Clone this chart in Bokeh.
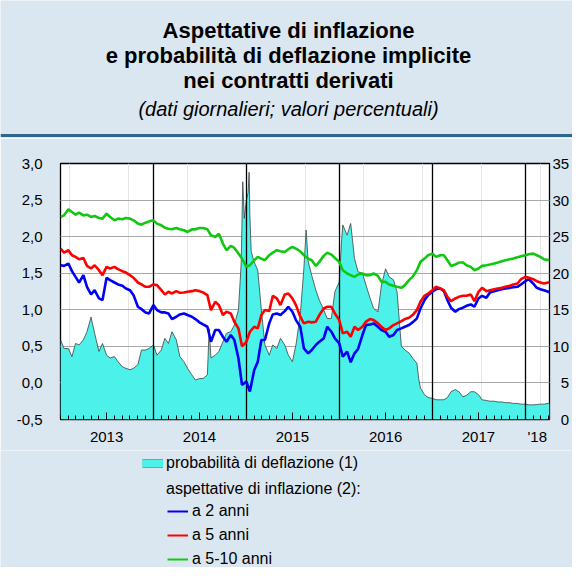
import pandas as pd
from bokeh.plotting import figure
from bokeh.models import (Range1d, LinearAxis, FixedTicker, CustomJSTickFormatter, Grid,
                          Legend, LegendItem, ColumnDataSource)
from bokeh.layouts import column
from bokeh.embed import file_html
from bokeh.resources import INLINE
from bokeh.core.properties import value

FONT = "Liberation Sans"
BG = "#dbe7f0"
SEP = "#2f6690"
CYAN = "#4cf2ea"
CYAN_EDGE = "#38bdb8"
BLUE = "#0000f5"
RED = "#ff0000"
GREEN = "#10c810"

# ---------------- data ----------------
title_lines = ["Aspettative di inflazione",
               "e probabilità di deflazione implicite",
               "nei contratti derivati"]
subtitle = "(dati giornalieri; valori percentuali)"

# semi-monthly observation dates for the expectation series
dates = []
for yy in range(2013, 2019):
    for mm in range(1, 13):
        for dd in (1, 15):
            if yy == 2018 and (mm > 4 or (mm == 4 and dd == 15)):
                continue
            dates.append(f"{yy}-{mm:02d}-{dd:02d}")
dates.append("2018-04-06")

infl_2y = [
    1.609, 1.600, 1.632, 1.528, 1.450, 1.373, 1.473, 1.314, 1.209, 1.268, 1.155, 1.132,
    1.437, 1.405, 1.373, 1.346, 1.328, 1.291, 1.268, 1.200, 1.041, 1.009, 0.964, 0.950,
    1.064, 0.996, 0.964, 0.964, 0.950, 0.873, 0.905, 0.937, 0.950, 0.928, 0.905, 0.873,
    0.828, 0.800, 0.768, 0.564, 0.723, 0.723, 0.632, 0.564, 0.655, 0.587, 0.337, -0.027,
    0.019, -0.118, 0.178, 0.291, 0.587, 0.587, 0.814, 0.937, 0.950, 0.928, 0.982, 1.041,
    0.973, 0.859, 0.768, 0.473, 0.405, 0.450, 0.518, 0.564, 0.609, 0.768, 0.700, 0.609,
    0.540, 0.359, 0.428, 0.282, 0.405, 0.464, 0.655, 0.791, 0.800, 0.814, 0.768, 0.723,
    0.700, 0.632, 0.655, 0.723, 0.746, 0.768, 0.791, 0.828, 0.882, 1.018, 1.132, 1.200,
    1.246, 1.282, 1.291, 1.255, 1.132, 1.028, 0.973, 1.009, 1.028, 1.055, 1.073, 1.041,
    1.155, 1.191, 1.164, 1.237, 1.255, 1.268, 1.282, 1.291, 1.300, 1.309, 1.314, 1.346,
    1.391, 1.418, 1.359, 1.300, 1.282, 1.268, 1.246, 1.237]

infl_5y = [
    1.837, 1.782, 1.814, 1.746, 1.723, 1.691, 1.709, 1.600, 1.564, 1.609, 1.541, 1.473,
    1.587, 1.564, 1.587, 1.555, 1.528, 1.509, 1.473, 1.437, 1.373, 1.346, 1.314, 1.314,
    1.346, 1.337, 1.268, 1.209, 1.246, 1.223, 1.255, 1.232, 1.237, 1.246, 1.255, 1.268,
    1.255, 1.237, 1.200, 0.996, 1.109, 1.064, 0.928, 0.973, 0.950, 0.837, 0.746, 0.500,
    0.560, 0.700, 0.768, 0.746, 0.928, 0.996, 0.982, 1.191, 1.155, 1.064, 1.209, 1.223,
    1.155, 1.064, 0.905, 0.814, 0.837, 0.828, 0.837, 0.928, 1.018, 1.041, 1.041, 0.950,
    0.859, 0.677, 0.700, 0.632, 0.768, 0.723, 0.768, 0.837, 0.873, 0.859, 0.814, 0.768,
    0.723, 0.746, 0.791, 0.814, 0.846, 0.873, 0.891, 0.928, 0.996, 1.109, 1.191, 1.223,
    1.268, 1.314, 1.291, 1.268, 1.177, 1.118, 1.155, 1.177, 1.191, 1.191, 1.209, 1.118,
    1.246, 1.300, 1.255, 1.268, 1.282, 1.291, 1.300, 1.314, 1.328, 1.346, 1.359, 1.418,
    1.450, 1.437, 1.418, 1.391, 1.373, 1.359, 1.373, 1.373]

infl_5_10y = [
    2.269, 2.291, 2.373, 2.337, 2.300, 2.328, 2.291, 2.300, 2.269, 2.282, 2.255, 2.246,
    2.314, 2.269, 2.223, 2.246, 2.237, 2.255, 2.246, 2.223, 2.178, 2.164, 2.191, 2.209,
    2.223, 2.178, 2.155, 2.123, 2.109, 2.100, 2.119, 2.100, 2.087, 2.064, 2.100, 2.100,
    2.119, 2.119, 2.100, 2.019, 1.996, 2.041, 1.905, 1.814, 1.873, 1.846, 1.768, 1.700,
    1.587, 1.609, 1.678, 1.723, 1.700, 1.678, 1.746, 1.782, 1.814, 1.800, 1.791, 1.828,
    1.859, 1.837, 1.800, 1.746, 1.700, 1.678, 1.600, 1.655, 1.737, 1.782, 1.755, 1.709,
    1.655, 1.541, 1.496, 1.473, 1.450, 1.482, 1.496, 1.473, 1.473, 1.496, 1.464, 1.382,
    1.382, 1.346, 1.328, 1.314, 1.300, 1.337, 1.405, 1.450, 1.541, 1.655, 1.700, 1.746,
    1.768, 1.723, 1.746, 1.746, 1.678, 1.600, 1.619, 1.646, 1.646, 1.609, 1.587, 1.541,
    1.564, 1.600, 1.609, 1.619, 1.632, 1.646, 1.664, 1.678, 1.691, 1.700, 1.719, 1.732,
    1.746, 1.759, 1.768, 1.746, 1.723, 1.691, 1.678, 1.687]

defl_dates = [
    "2013-01-01", "2013-01-15", "2013-02-01", "2013-02-15", "2013-03-01", "2013-03-15",
    "2013-04-01", "2013-04-15", "2013-05-01", "2013-05-15", "2013-06-01", "2013-06-15",
    "2013-07-01", "2013-07-15", "2013-08-01", "2013-08-15", "2013-09-01", "2013-09-15",
    "2013-10-01", "2013-10-15", "2013-11-01", "2013-11-15", "2013-12-01", "2013-12-15",
    "2014-01-01", "2014-01-15", "2014-02-01", "2014-02-15", "2014-03-01", "2014-03-15",
    "2014-04-01", "2014-04-15", "2014-05-01", "2014-05-15", "2014-06-01", "2014-06-15",
    "2014-07-01", "2014-07-15", "2014-08-01", "2014-08-08", "2014-08-15", "2014-09-01",
    "2014-09-15", "2014-10-01", "2014-10-15", "2014-11-01", "2014-11-15", "2014-12-01",
    "2014-12-08", "2014-12-12", "2014-12-15", "2014-12-18", "2014-12-24",
    "2015-01-01", "2015-01-08", "2015-01-12", "2015-01-15", "2015-01-20", "2015-02-01",
    "2015-02-15", "2015-03-01", "2015-03-15", "2015-04-01", "2015-04-15", "2015-05-01",
    "2015-05-15", "2015-06-01", "2015-06-15", "2015-07-01", "2015-07-15", "2015-08-01",
    "2015-08-15", "2015-08-24", "2015-09-01", "2015-09-15", "2015-10-01", "2015-10-15",
    "2015-11-01", "2015-11-15", "2015-12-01", "2015-12-15",
    "2016-01-01", "2016-01-10", "2016-01-15", "2016-02-01", "2016-02-15", "2016-03-01",
    "2016-03-15", "2016-04-01", "2016-04-15", "2016-05-01", "2016-05-15", "2016-06-01",
    "2016-06-15", "2016-07-01", "2016-07-15", "2016-08-01", "2016-08-15", "2016-09-01",
    "2016-09-15", "2016-10-01", "2016-10-15", "2016-11-01", "2016-11-08", "2016-11-15",
    "2016-12-01", "2016-12-15",
    "2017-01-01", "2017-01-15", "2017-02-01", "2017-02-15", "2017-03-01", "2017-03-15",
    "2017-04-01", "2017-04-15", "2017-05-01", "2017-05-15", "2017-06-01", "2017-06-15",
    "2017-07-01", "2017-07-15", "2017-08-01", "2017-08-15", "2017-09-01", "2017-09-15",
    "2017-10-01", "2017-10-15", "2017-11-01", "2017-11-15", "2017-12-01", "2017-12-15",
    "2018-01-01", "2018-01-15", "2018-02-01", "2018-02-15", "2018-03-01", "2018-03-15",
    "2018-04-01", "2018-04-06"]

defl_prob = [
    10.9, 9.7, 9.7, 8.6, 10.4, 10.2, 10.9, 12.0, 14.0, 11.8, 9.3, 10.4,
    8.8, 8.4, 8.6, 7.9, 7.2, 7.0, 6.8, 7.0, 7.5, 9.5, 9.5, 9.7,
    10.2, 8.8, 9.5, 11.1, 10.4, 12.0, 10.9, 8.6, 7.9, 7.0, 6.1, 5.4,
    5.6, 5.6, 6.1, 12.4, 8.4, 8.8, 9.3, 10.6, 11.8, 12.0, 12.9, 15.0,
    19.0, 21.5, 27.0, 32.5, 27.5,
    30.0, 31.0, 33.8, 28.0, 23.0, 21.5, 20.4, 15.0, 10.2, 8.8, 10.2, 9.7,
    11.1, 10.2, 8.8, 7.9, 10.2, 14.3, 20.6, 25.9, 21.6, 19.7, 17.7, 16.3,
    15.0, 13.8, 13.8, 17.5,
    18.8, 24.3, 26.6, 25.2, 26.8, 22.0, 20.2, 20.0, 18.4, 16.6, 15.2, 14.7,
    18.4, 20.6, 19.5, 19.1, 17.5, 10.0, 9.5, 9.1, 8.4, 7.7, 5.6, 4.3,
    3.4, 3.0,
    2.9, 2.7, 2.7, 2.7, 3.0, 3.8, 4.1, 3.8, 3.1, 3.3, 3.8, 3.8,
    3.4, 2.7, 2.6, 2.5, 2.5, 2.4, 2.4, 2.3, 2.3, 2.2, 2.2, 2.1,
    2.1, 2.0, 2.0, 2.05, 2.1, 2.1, 2.2, 2.2]

legend_labels = ["probabilità di deflazione (1)", "aspettative di inflazione (2):",
                 "a 2 anni", "a 5 anni", "a 5-10 anni"]
left_ticks = [-0.5, 0.0, 0.5, 1.0, 1.5, 2.0, 2.5, 3.0]
right_ticks = [0, 5, 10, 15, 20, 25, 30, 35]
year_starts = ["2014-01-01", "2015-01-01", "2016-01-01", "2017-01-01", "2018-01-01"]
year_label_dates = ["2013-07-01", "2014-07-01", "2015-07-01", "2016-07-01", "2017-07-01", "2018-02-17"]
mid_year_dates = ["2013-07-01", "2014-07-01", "2015-07-01", "2016-07-01", "2017-07-01"]
x_start, x_end = "2013-01-01", "2018-04-06"


def ms(d):
    return pd.Timestamp(d).value / 1e6


month_starts = [ms(f"{yy}-{mm:02d}-01") for yy in range(2013, 2019) for mm in range(1, 13)
                if not (yy == 2018 and mm > 4)]

W = 572

# ---------------- title band ----------------
t = figure(width=W, height=138, x_range=Range1d(0, W), y_range=Range1d(0, 138),
           toolbar_location=None, output_backend="svg", min_border=0, frame_align=False,
           x_axis_location=None, y_axis_location=None, outline_line_color=None,
           background_fill_color=BG, border_fill_color=BG)
t.xgrid.visible = False
t.ygrid.visible = False
t.text(x=[288, 288, 288], y=[108, 83, 58], text=title_lines, text_font=value(FONT),
       text_font_style="bold", text_font_size="22px", text_align="center",
       text_baseline="middle", text_color="black")
t.text(x=[288], y=[30], text=[subtitle], text_font=value(FONT), text_font_style="italic",
       text_font_size="20px", text_align="center", text_baseline="middle", text_color="black")
t.hspan(y=[3], line_color=SEP, line_width=3)

# ---------------- main chart ----------------
p = figure(width=W, height=312,
           x_range=Range1d(ms(x_start), ms(x_end)), y_range=Range1d(-0.5, 3.0),
           x_axis_location=None, y_axis_location=None, frame_align=False,
           toolbar_location=None, output_backend="svg",
           min_border_left=60, min_border_right=20, min_border_top=25, min_border_bottom=31,
           background_fill_color="white", border_fill_color=BG,
           outline_line_color="black", outline_line_width=1.3)
p.extra_y_ranges = {"prob": Range1d(0, 35)}

src = ColumnDataSource(dict(date=[ms(d) for d in dates], b2=infl_2y, r5=infl_5y, g510=infl_5_10y))
dsrc = ColumnDataSource(dict(date=[ms(d) for d in defl_dates], prob=defl_prob))

yaxis = LinearAxis(ticker=FixedTicker(ticks=left_ticks),
                   formatter=CustomJSTickFormatter(code="return tick.toFixed(1).replace('.', ',');"),
                   axis_line_color=None, major_tick_line_color=None, minor_tick_line_color=None,
                   major_tick_out=0, major_tick_in=0, minor_tick_out=0, minor_tick_in=0,
                   major_label_standoff=18, major_label_text_font=FONT,
                   major_label_text_font_size="15px", major_label_text_color="black")
p.add_layout(yaxis, "left")

raxis = LinearAxis(y_range_name="prob", ticker=FixedTicker(ticks=right_ticks),
                   formatter=CustomJSTickFormatter(code="return (tick < 10 ? '\u2007' : '') + tick.toFixed(0);"),
                   axis_line_color=None, major_tick_line_color=None, minor_tick_line_color=None,
                   major_tick_out=0, major_tick_in=0, minor_tick_out=0, minor_tick_in=0,
                   major_label_standoff=3, major_label_text_font=FONT,
                   major_label_text_font_size="15px", major_label_text_color="black")
p.add_layout(raxis, "right")

tick_axis = LinearAxis(ticker=FixedTicker(ticks=[ms(d) for d in mid_year_dates], minor_ticks=month_starts),
                       formatter=CustomJSTickFormatter(code="return '';"),
                       axis_line_color=None, major_tick_in=7, major_tick_out=0,
                       minor_tick_in=4, minor_tick_out=0, major_tick_line_color="black",
                       minor_tick_line_color="black", major_label_standoff=0,
                       major_label_text_font_size="1px")
p.add_layout(tick_axis, "below")

label_axis = LinearAxis(ticker=FixedTicker(ticks=[ms(d) for d in year_label_dates]),
                        formatter=CustomJSTickFormatter(code="const y = new Date(tick).getUTCFullYear(); return y >= 2018 ? \"'18\" : String(y);"),
                        axis_line_color=None, major_tick_line_color=None, minor_tick_line_color=None,
                        major_label_standoff=2, major_label_text_font=FONT,
                        major_label_text_font_size="15px", major_label_text_color="black")
p.add_layout(label_axis, "below")

p.add_layout(Grid(dimension=1, ticker=yaxis.ticker, grid_line_color="#a8a8a8", grid_line_width=1))

p.varea(x="date", y1=0, y2="prob", source=dsrc, y_range_name="prob", fill_color=CYAN)
p.line(x="date", y="prob", source=dsrc, y_range_name="prob", line_color="#404040", line_width=0.8)
p.vspan(x=[ms(d) for d in year_starts], line_color="black", line_width=1.3)

p.line(x="date", y="b2", source=src, line_color=BLUE, line_width=2.6)
p.line(x="date", y="r5", source=src, line_color=RED, line_width=2.6)
p.line(x="date", y="g510", source=src, line_color=GREEN, line_width=2.6)

# ---------------- legend band ----------------
lg = figure(width=W, height=117, x_range=Range1d(0, 1), y_range=Range1d(0, 1),
            toolbar_location=None, output_backend="svg", min_border=0, frame_align=False,
            x_axis_location=None, y_axis_location=None, outline_line_color=None,
            background_fill_color=BG, border_fill_color=BG)
lg.xgrid.visible = False
lg.ygrid.visible = False
# legend key stand-ins (single off-range point, so nothing is drawn in the band itself)
k_edge = lg.line(x=[-5], y=[-5], line_color=CYAN_EDGE, line_width=9)
k_fill = lg.line(x=[-5], y=[-5], line_color=CYAN, line_width=7)
k_blank = lg.line(x=[-5], y=[-5], line_alpha=0)
k_blue = lg.line(x=[-5], y=[-5], line_color=BLUE, line_width=2)
k_red = lg.line(x=[-5], y=[-5], line_color=RED, line_width=2)
k_green = lg.line(x=[-5], y=[-5], line_color=GREEN, line_width=2)

common = dict(glyph_width=21, glyph_height=20, label_height=20, padding=0, margin=0,
              border_line_color=None, background_fill_alpha=0,
              label_text_font=FONT, label_text_font_size="16px", label_text_color="black")
legA = Legend(items=[LegendItem(label=legend_labels[0], renderers=[k_edge, k_fill]),
                     LegendItem(label=legend_labels[1], renderers=[k_blank])],
              location=(142, 68), label_standoff=3, spacing=6, **common)
legB = Legend(items=[LegendItem(label=legend_labels[2], renderers=[k_blue]),
                     LegendItem(label=legend_labels[3], renderers=[k_red]),
                     LegendItem(label=legend_labels[4], renderers=[k_green])],
              location=(167, -2), label_standoff=4, spacing=4, **common)
lg.add_layout(legA)
lg.add_layout(legB)

root = column(t, p, lg, spacing=0)
open("out.html", "w").write(file_html(root, INLINE))
